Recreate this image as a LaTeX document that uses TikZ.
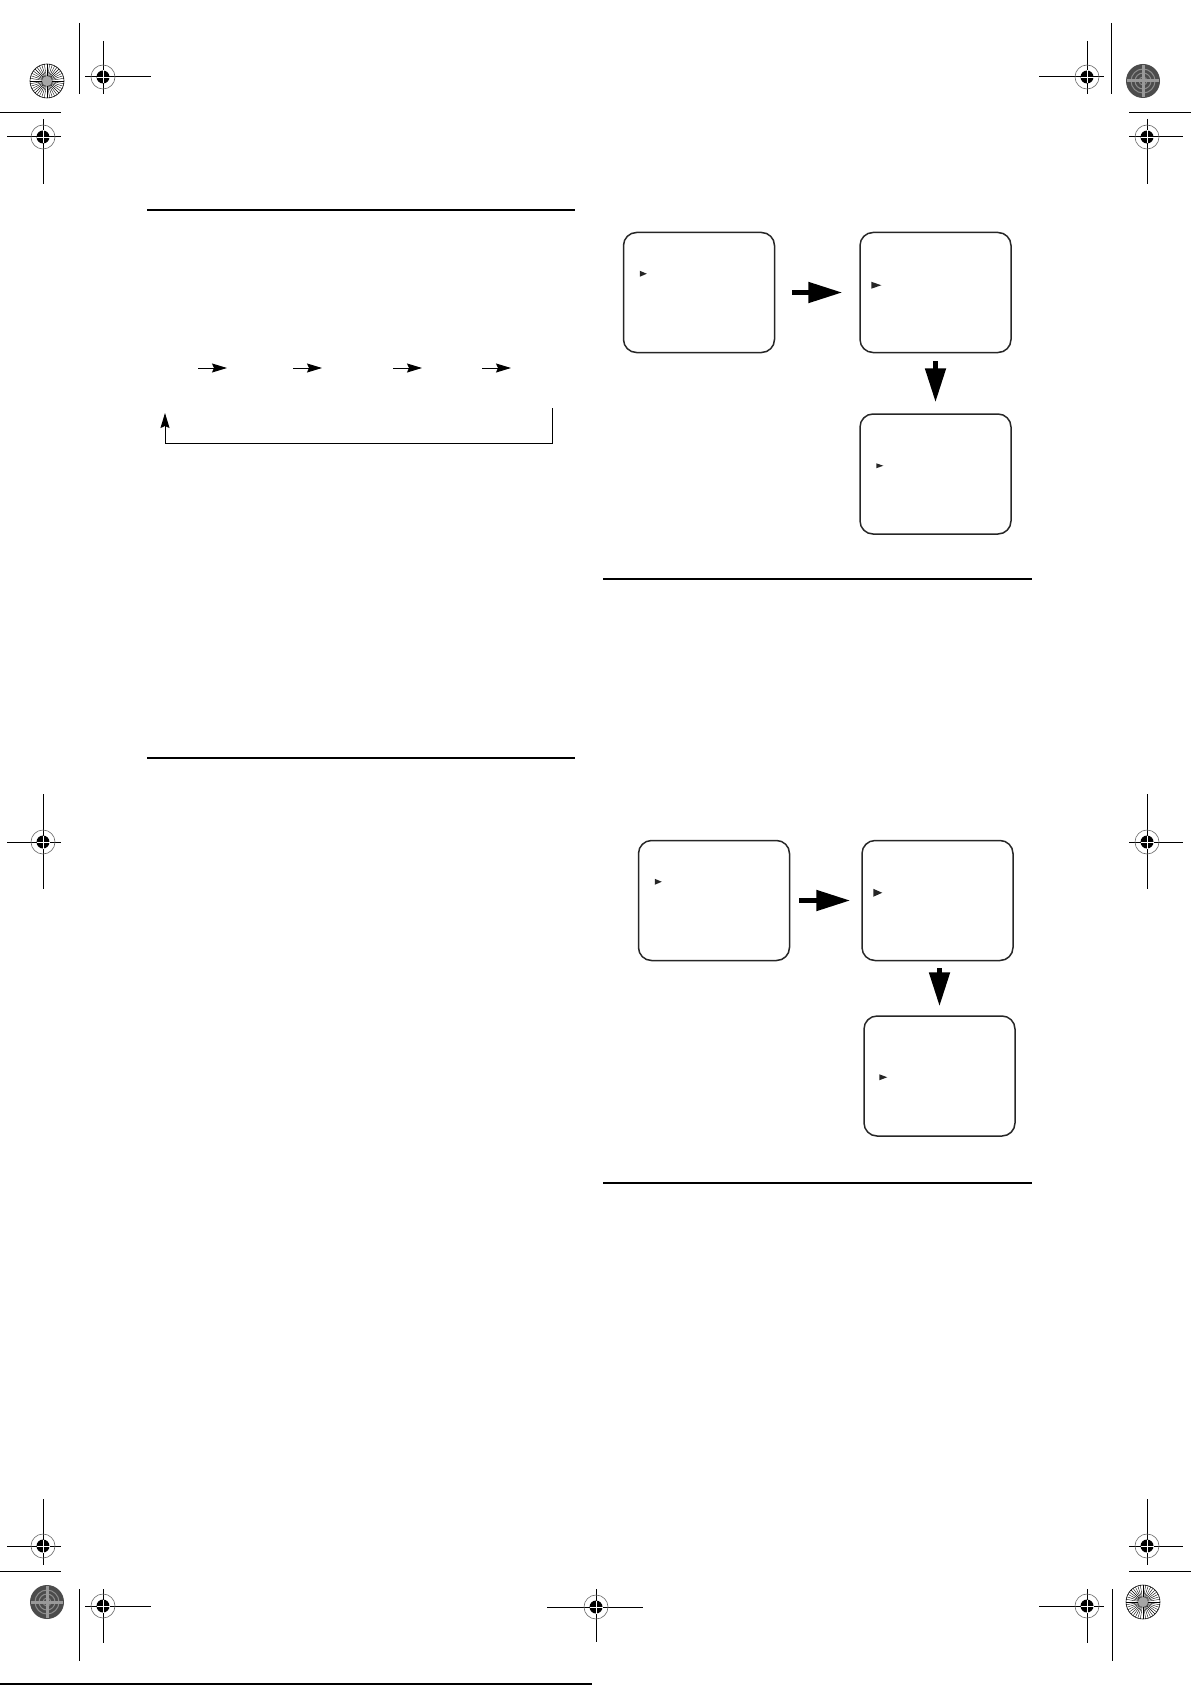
\documentclass[tikz,border=0pt]{standalone}
\usepackage{tikz}
\usetikzlibrary{arrows.meta,positioning}

\begin{document}
\begin{tikzpicture}[
      x=1pt, y=-1pt,
      screen_box/.style={
         draw=black!85,
         rounded corners=13pt,
         line width=1.5pt,
         minimum width=151pt,
         minimum height=120pt,
         inner sep=0pt},
      fat_arrow/.style={
        -{Triangle[length=34pt,width=20pt]},
        line width=5pt},
      thin_arrow/.style={
        -{Stealth[length=15pt,width=9pt,inset=2pt]},
        line width=1pt},
      rule_line/.style={
        line width=2.2pt},
      reg_line/.style={
        line width=1pt},
      reg_ring/.style={
        draw=black!60,
        line width=0.6pt},
      node distance=84pt and 84pt,
      ]
      \useasboundingbox (0,0) rectangle (1191,1685);

      % top screens
      \node[screen_box] (m1) at (699,292.5) {};
      \node[screen_box,right=of m1] (m2) {};
      \node[screen_box,below=60pt of m2] (m3) {};
      % lower screens
      \node[screen_box] (m4) at (714,900.5) {};
      \node[screen_box,right=71pt of m4] (m5) {};
      \node[screen_box,below=54pt of m5,xshift=2pt] (m6) {};

      \draw [fat_arrow,shorten <=17pt,shorten >=17pt] (m1) -- (m2);
      \draw [fat_arrow,shorten <=8pt,shorten >=11pt] (m2) -- (m3);
      \draw [fat_arrow,shorten <=9pt,shorten >=11pt] (m4) -- (m5);
      \draw [fat_arrow,shorten <=7pt,shorten >=9pt] (m6.north |- m5.south) -- (m6.north);

      % cursor marks
      \foreach \m/\dx/\dy/\w/\h in {% screen/x offset/y offset/width/height
        m1/17/39/7/6,
        m2/12/50/10/7,
        m3/17/50/7/5,
        m4/17/39/7/6,
        m5/12/49/9/8,
        m6/16/59/8/6}
        \fill[black!85] ([xshift=\dx pt,yshift=-\dy pt]\m.north west)
          -- ++(\w,\h/2) -- ++(-\w,\h/2) -- cycle;

      % step arrows
      \foreach \i/\a in {1/198,2/293,3/393,4/482}{
        \coordinate (rs\i) at (\a,368);
        \coordinate (re\i) at (\a+29,368);
        \draw [thin_arrow] (rs\i) -- (re\i);
      }
      \coordinate (loop_r) at (552,408);
      \coordinate (loop_l) at (165,413);
      \draw [thin_arrow] (loop_r) -- ++(0,35) -| (loop_l);

      % rules
      \draw[rule_line] (147,210) -- (575,210);
      \draw[rule_line] (147,758) -- (575,758);
      \draw[rule_line] (603,579) -- (1032,579);
      \draw[rule_line] (603,1183) -- (1032,1183);
      \draw[line width=1.5pt] (0,1684) -- (592,1684);

      % trim lines
      \foreach \xa/\ya/\xb/\yb in {
        79/23/79/94, 1111/23/1111/94, 0/113/61/113, 1129/113/1191/113,
        0/1571/61/1571, 1129/1571/1191/1571, 79/1589/79/1661, 1112/1589/1112/1661}
        \draw[reg_line] (\xa,\ya) -- (\xb,\yb);

      % registration marks
      \foreach \x/\y/\l/\r/\u/\d in {% centre/left/right/up/down
        103/77/18/48/36/17,
        43/137/36/18/18/47,
        1087/77/48/17/36/17,
        1147/137/18/36/18/47,
        43/842/36/18/48/47,
        1147/842/18/36/48/47,
        43/1546/36/18/47/19,
        103/1606/18/48/17/37,
        596/1607/49/47/18/35,
        1147/1546/18/36/47/19,
        1087/1606/48/17/17/37}{
        \draw[reg_line] (\x-\l,\y) -- (\x+\r,\y);
        \draw[reg_line] (\x,\y-\u) -- (\x,\y+\d);
        \draw[reg_ring] (\x,\y) circle[radius=12pt];
        \fill (\x,\y) circle[radius=6.5pt];
        \draw[white,line width=0.8pt] (\x-6.5,\y) -- (\x+6.5,\y) (\x,\y-6.5) -- (\x,\y+6.5);
      }

      % light stars
      \foreach \x/\y in {47/81,1143/1602}{
        \foreach \a in {0,9,...,351}
          \draw[line width=0.4pt] (\x,\y) -- ++(\a:17pt);
        \fill[black!35] (\x,\y) circle[radius=5pt];
        \draw[line width=0.6pt] (\x,\y) circle[radius=17pt];
      }
      % dark stars
      \foreach \x/\y in {1143/81,47/1602}{
        \fill[black!70] (\x,\y) circle[radius=17pt];
        \foreach \r in {4,8,12}
          \draw[black!45,line width=1pt] (\x,\y) circle[radius=\r pt];
        \draw[black!40,line width=3pt] (\x-16,\y) -- (\x+16,\y) (\x,\y-16) -- (\x,\y+16);
      }
\end{tikzpicture}
\end{document}
